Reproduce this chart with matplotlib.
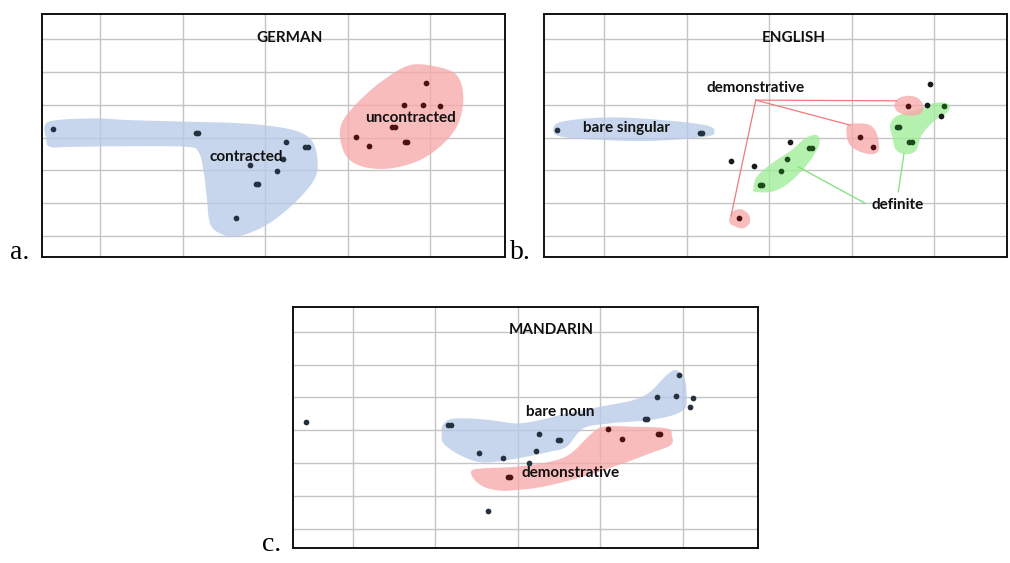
"""Three-panel cluster sketch: German, English and Mandarin noun-phrase types."""
import numpy as np
import matplotlib
matplotlib.use("Agg")
import matplotlib.pyplot as plt

# ---- German -------------------------------------------------------------
german_contracted_x = [-0.566, 1.16, 1.19, 2.255, 2.48, 2.515, 2.222, 1.818, 2.142, 1.885, 1.912, 1.645]
german_contracted_y = [3.25, 3.15, 3.15, 2.875, 2.72, 2.72, 2.35, 2.155, 1.99, 1.575, 1.575, 0.54]
german_uncontracted_x = [3.952, 3.689, 3.91, 4.121, 3.54, 3.572, 3.10, 3.264, 3.692, 3.726]
german_uncontracted_y = [4.655, 3.994, 4.01, 3.97, 3.33, 3.33, 3.03, 2.74, 2.875, 2.875]

german_contracted_outline_x = [-0.667, -0.525, -0.04, 0.364, 1.091, 1.576, 1.98, 2.343, 2.545, 2.626, 2.626,
                               2.505, 2.263, 1.98, 1.657, 1.455, 1.333, 1.293, 1.253, 1.192, 1.05, 0.364,
                               -0.323, -0.606, -0.655]
german_contracted_outline_y = [3.384, 3.537, 3.587, 3.537, 3.486, 3.455, 3.384, 3.232, 2.978, 2.52, 1.91,
                               1.402, 0.793, 0.285, -0.02, 0.081, 0.386, 1.2, 2.01, 2.571, 2.72, 2.74,
                               2.72, 2.72, 2.978]
german_uncontracted_outline_x = [2.909, 2.949, 3.152, 3.434, 3.758, 4.081, 4.323, 4.404, 4.343, 4.162,
                                 3.879, 3.515, 3.192, 2.99]
german_uncontracted_outline_y = [3.028, 3.537, 4.146, 4.756, 5.213, 5.163, 4.909, 4.248, 3.435, 2.825,
                                 2.317, 2.063, 2.114, 2.419]

# ---- English ------------------------------------------------------------
english_bare_x = [-0.573, 1.16, 1.19]
english_bare_y = [3.23, 3.13, 3.13]
english_other_x = [1.535, 1.814, 2.259, 3.955, 3.915, 4.089]
english_other_y = [2.30, 2.13, 2.87, 4.63, 3.99, 3.66]
english_definite_x = [2.48, 2.515, 2.222, 2.141, 1.885, 1.912, 3.545, 3.575, 3.697, 3.73, 4.125]
english_definite_y = [2.69, 2.69, 2.34, 1.98, 1.555, 1.555, 3.33, 3.33, 2.86, 2.86, 3.96]
english_demonstrative_x = [3.689, 3.099, 3.265, 1.64]
english_demonstrative_y = [3.98, 3.03, 2.72, 0.54]

english_bare_outline_x = [-0.614, -0.513, 0.012, 0.618, 1.224, 1.337, 1.224, 0.618, 0.012, -0.513]
english_bare_outline_y = [3.232, 3.486, 3.618, 3.557, 3.384, 3.181, 3.028, 2.907, 2.927, 3.028]
english_definite_outlines = [
    ([1.81, 1.851, 2.032, 2.275, 2.436, 2.578, 2.606, 2.457, 2.234, 2.032, 1.83],
     [1.453, 1.809, 2.215, 2.622, 2.978, 3.079, 2.774, 2.165, 1.606, 1.352, 1.352]),
    ([3.467, 3.547, 3.77, 4.012, 4.174, 4.166, 3.992, 3.851, 3.778, 3.648, 3.535, 3.495],
     [3.384, 3.659, 3.841, 4.065, 4.024, 3.791, 3.486, 3.079, 2.602, 2.5, 2.642, 3.028]),
]
english_demonstrative_outlines = [
    ([3.519, 3.568, 3.689, 3.81, 3.871, 3.830, 3.689, 3.560],
     [3.994, 4.197, 4.278, 4.197, 3.943, 3.72, 3.679, 3.791]),
    ([2.954, 3.083, 3.224, 3.305, 3.333, 3.265, 3.103, 2.982, 2.941],
     [3.384, 3.435, 3.384, 3.13, 2.673, 2.5, 2.571, 2.774, 3.079]),
    ([1.519, 1.568, 1.669, 1.758, 1.762, 1.677, 1.580, 1.527],
     [0.539, 0.762, 0.813, 0.64, 0.386, 0.234, 0.305, 0.386]),
]
demonstrative_label_xy = (1.839, 4.52)
demonstrative_leader_origin = (1.839, 4.146)
demonstrative_leader_targets = [(3.548, 4.125), (2.982, 3.384), (1.539, 0.61)]
definite_label_xy = (3.56, 0.945)
definite_leaders = [((3.164, 1.0), (2.355, 2.11)), ((3.567, 1.35), (3.636, 2.52))]

# ---- Mandarin -----------------------------------------------------------
mandarin_bare_x = [-0.566, 1.155, 1.187, 2.258, 2.485, 2.515, 2.222, 2.141, 1.535, 1.818, 1.636,
                   3.955, 3.693, 3.915, 4.12, 4.088, 3.54, 3.57]
mandarin_bare_y = [3.25, 3.15, 3.15, 2.89, 2.71, 2.71, 2.36, 2.00, 2.32, 2.16, 0.55,
                   4.67, 4.02, 4.03, 3.98, 3.70, 3.35, 3.35]
mandarin_demonstrative_x = [3.098, 3.268, 3.70, 3.73, 1.882, 1.912]
mandarin_demonstrative_y = [3.04, 2.73, 2.89, 2.89, 1.58, 1.58]

mandarin_bare_outline_x = [1.091, 1.18, 1.382, 1.665, 1.988, 2.271, 2.594, 2.998, 3.402, 3.604, 3.806,
                           3.927, 4.028, 4.048, 4.028, 3.887, 3.604, 3.362, 3.119, 2.796, 2.594,
                           2.392, 2.109, 1.745, 1.503, 1.261, 1.099, 1.079]
mandarin_bare_outline_y = [3.161, 3.333, 3.364, 3.313, 3.212, 3.313, 3.516, 3.718, 3.921, 4.174, 4.681,
                           4.833, 4.529, 3.921, 3.668, 3.465, 3.313, 3.262, 3.212, 3.06, 2.503,
                           2.351, 2.199, 2.047, 2.047, 2.3, 2.604, 2.908]
mandarin_demonstrative_outline_x = [1.442, 1.584, 1.988, 2.392, 2.634, 2.877, 3.038, 3.402, 3.806, 3.867,
                                    3.855, 3.604, 3.281, 2.796, 2.311, 1.988, 1.786, 1.584, 1.463]
mandarin_demonstrative_outline_y = [1.773, 1.844, 1.895, 2.047, 2.28, 2.857, 3.11, 3.11, 3.06, 2.857,
                                    2.553, 2.3, 1.996, 1.591, 1.287, 1.185, 1.165, 1.287, 1.54]

BLUE_FILL, RED_FILL, GREEN_FILL = "#b9cbe8", "#f8a9a9", "#9fee98"
BLUE_DOT, RED_DOT, GREEN_DOT, BLACK_DOT = "#26313f", "#4e1010", "#1d4a1d", "#1a1a1a"
LABEL_FONT = dict(family=["Lato", "DejaVu Sans"], fontweight="bold", fontsize=11, color="#111111")


def smooth_closed(xs, ys, steps=24):
    """Closed Catmull-Rom curve through the outline vertices."""
    pts = np.column_stack([xs, ys]).astype(float)
    count = len(pts)
    t = np.linspace(0, 1, steps, endpoint=False)[:, None]
    pieces = []
    for i in range(count):
        p0, p1, p2, p3 = pts[i - 1], pts[i], pts[(i + 1) % count], pts[(i + 2) % count]
        pieces.append(0.5 * (2 * p1 + (-p0 + p2) * t + (2 * p0 - 5 * p1 + 4 * p2 - p3) * t ** 2
                             + (-p0 + 3 * p1 - 3 * p2 + p3) * t ** 3))
    curve = np.vstack(pieces)
    return curve[:, 0], curve[:, 1]


def blob(ax, xs, ys, color):
    cx, cy = smooth_closed(xs, ys)
    ax.fill(cx, cy, color=color, alpha=0.78, lw=0, zorder=1)


def dots(ax, xs, ys, color):
    ax.scatter(xs, ys, s=17, color=color, lw=0, zorder=3)


def frame(ax, xlim, ylim, title, title_x):
    ax.set_xlim(*xlim)
    ax.set_ylim(*ylim)
    ax.set_xticks(range(5))
    ax.set_yticks(range(7))
    ax.tick_params(length=0, labelbottom=False, labelleft=False)
    ax.grid(True, color="#c4c4c4", lw=1.0, zorder=0)
    ax.set_axisbelow(True)
    for spine in ax.spines.values():
        spine.set_linewidth(1.4)
        spine.set_color("#111111")
    ax.text(title_x, 0.902, title, transform=ax.transAxes, ha="center", va="center", **LABEL_FONT)


fig = plt.figure(figsize=(10.1, 5.63), dpi=100)
ax_a = fig.add_axes([0.0413, 0.544, 0.4587, 0.431])
ax_b = fig.add_axes([0.539, 0.544, 0.4581, 0.431])
ax_c = fig.add_axes([0.2898, 0.0261, 0.461, 0.429])

# a. German
frame(ax_a, (-0.707, 4.909), (-0.63, 6.77), "GERMAN", 0.536)
blob(ax_a, german_contracted_outline_x, german_contracted_outline_y, BLUE_FILL)
blob(ax_a, german_uncontracted_outline_x, german_uncontracted_outline_y, RED_FILL)
dots(ax_a, german_contracted_x, german_contracted_y, BLUE_DOT)
dots(ax_a, german_uncontracted_x, german_uncontracted_y, RED_DOT)
ax_a.text(1.778, 2.42, "contracted", ha="center", va="center", zorder=4, **LABEL_FONT)
ax_a.text(3.758, 3.59, "uncontracted", ha="center", va="center", zorder=4, **LABEL_FONT)

# b. English
frame(ax_b, (-0.723, 4.885), (-0.63, 6.77), "ENGLISH", 0.538)
blob(ax_b, english_bare_outline_x, english_bare_outline_y, BLUE_FILL)
for ox, oy in english_definite_outlines:
    blob(ax_b, ox, oy, GREEN_FILL)
for ox, oy in english_demonstrative_outlines:
    blob(ax_b, ox, oy, RED_FILL)
for tx, ty in demonstrative_leader_targets:
    ax_b.plot([demonstrative_leader_origin[0], tx], [demonstrative_leader_origin[1], ty],
              color="#f07a7a", lw=0.9, zorder=2)
for (sx, sy), (tx, ty) in definite_leaders:
    ax_b.plot([sx, tx], [sy, ty], color="#7ee07a", lw=0.9, zorder=2)
dots(ax_b, english_bare_x, english_bare_y, BLUE_DOT)
dots(ax_b, english_other_x, english_other_y, BLACK_DOT)
dots(ax_b, english_definite_x, english_definite_y, GREEN_DOT)
dots(ax_b, english_demonstrative_x, english_demonstrative_y, RED_DOT)
ax_b.text(0.275, 3.30, "bare singular", ha="center", va="center", zorder=4, **LABEL_FONT)
ax_b.text(*demonstrative_label_xy, "demonstrative", ha="center", va="center", zorder=4, **LABEL_FONT)
ax_b.text(*definite_label_xy, "definite", ha="center", va="center", zorder=4, **LABEL_FONT)

# c. Mandarin
frame(ax_c, (-0.727, 4.916), (-0.59, 6.76), "MANDARIN", 0.556)
blob(ax_c, mandarin_bare_outline_x, mandarin_bare_outline_y, BLUE_FILL)
blob(ax_c, mandarin_demonstrative_outline_x, mandarin_demonstrative_outline_y, RED_FILL)
dots(ax_c, mandarin_bare_x, mandarin_bare_y, BLUE_DOT)
dots(ax_c, mandarin_demonstrative_x, mandarin_demonstrative_y, RED_DOT)
ax_c.text(2.513, 3.546, "bare noun", ha="center", va="center", zorder=4, **LABEL_FONT)
ax_c.text(2.642, 1.712, "demonstrative", ha="center", va="center", zorder=4, **LABEL_FONT)

# panel letters
letter_font = dict(family=["Liberation Serif", "DejaVu Serif"], fontsize=20, va="baseline")
fig.text(10 / 1010, 1 - 259 / 563, "a.", **letter_font)
fig.text(510 / 1010, 1 - 259 / 563, "b.", **letter_font)
fig.text(262 / 1010, 1 - 551 / 563, "c.", **letter_font)

fig.savefig("out.png", dpi=100, facecolor="white")
